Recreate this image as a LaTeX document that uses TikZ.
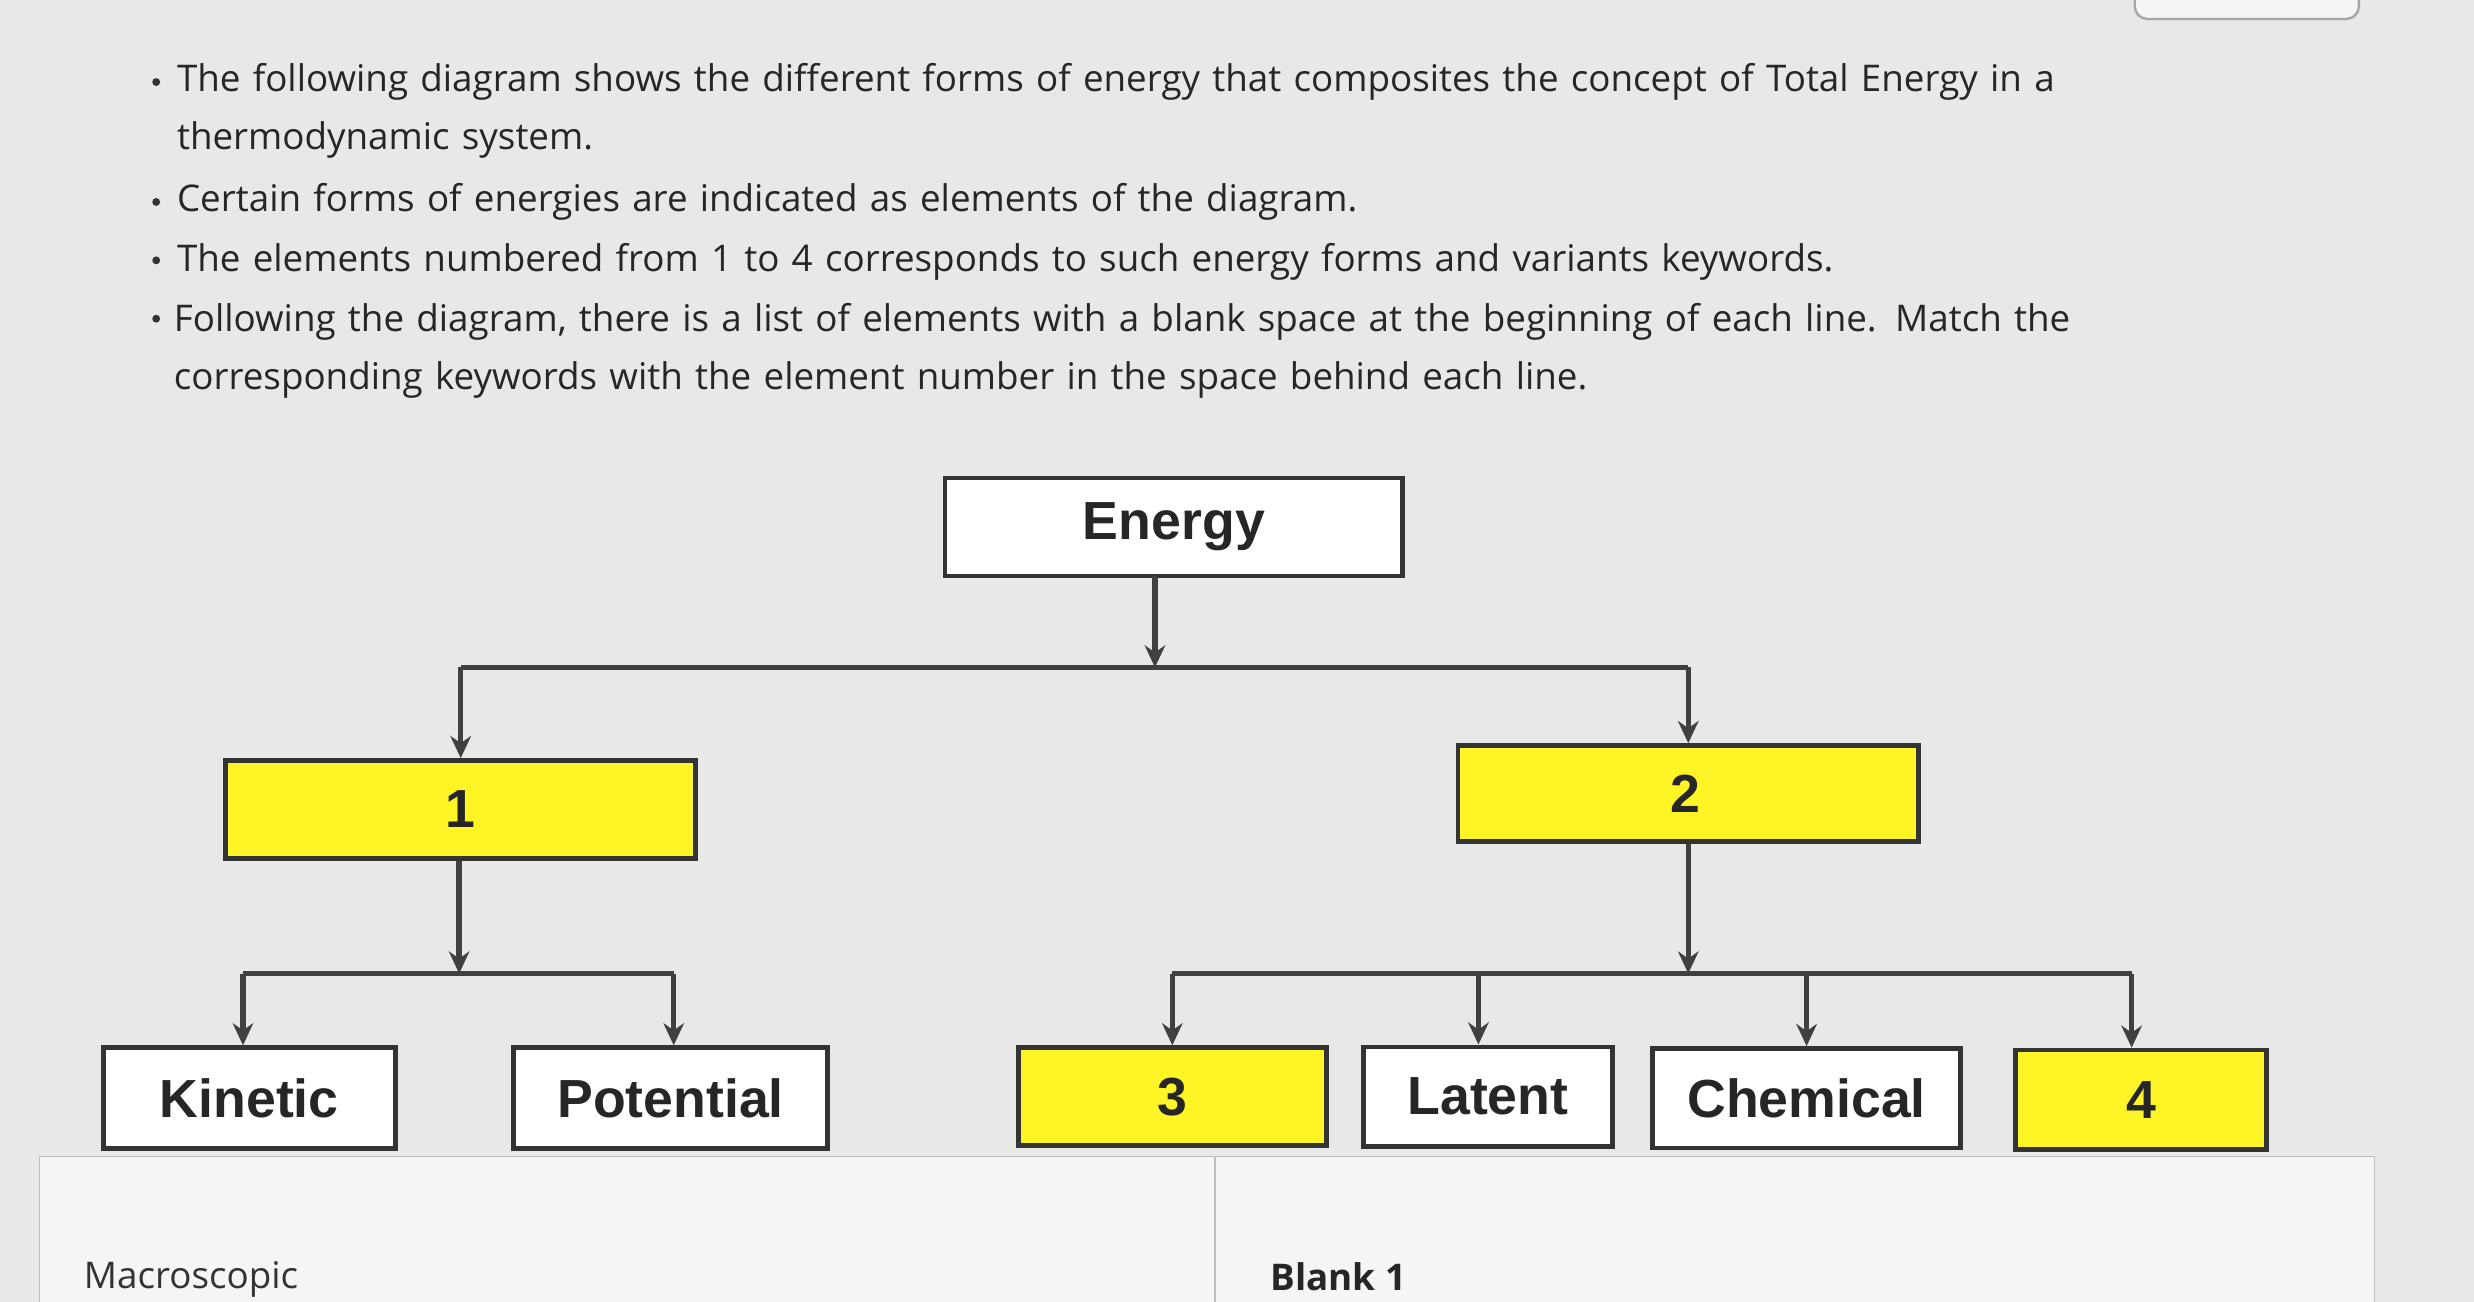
\documentclass[tikz,border=0pt]{standalone}
\usepackage{fontspec}
\setmainfont{Open Sans}
\newfontfamily\arial{Liberation Sans}
\usetikzlibrary{arrows.meta}
\begin{document}
\begin{tikzpicture}[x=1pt,y=-1pt,
  box/.style={draw=black!80,line width=3pt,fill=white,inner sep=0pt,font=\arial\bfseries\fontsize{34}{38}\selectfont,text=black!85},
  ybox/.style={box,fill=yellow!85!white},
  con/.style={draw=black!75,line width=3.5pt},
  arr/.style={con,-{Stealth[length=14pt,width=13pt]}},
  btxt/.style={anchor=north west,text width=1300pt,align=left,font=\fontsize{23.3}{37}\selectfont,text=black!85,inner sep=0pt}]
\fill[black!9] (0,0) rectangle (1568,825);
\useasboundingbox (0,0) rectangle (1568,825);
\draw[black!35,line width=1.5pt,rounded corners=8pt,fill=black!4] (1353,-20) rectangle (1495,12);
% bullets
\node[btxt] (b1) at (112,40) {The following diagram shows the different forms of energy that composites the concept of Total Energy in a\\thermodynamic system.};
\node[btxt] (b2) at (112,116) {Certain forms of energies are indicated as elements of the diagram.};
\node[btxt] (b3) at (112,154) {The elements numbered from 1 to 4 corresponds to such energy forms and variants keywords.};
\node[btxt] (b4) at (110,192) {Following the diagram, there is a list of elements with a blank space at the beginning of each line. Match the\\corresponding keywords with the element number in the space behind each line.};
\foreach \yy in {52,128,165,202} \fill[black!80] (99,\yy) circle (2.5pt);
% boxes
\node[box,minimum width=290pt,minimum height=62pt] (en) at (744,334) {Energy};
\node[ybox,minimum width=298pt,minimum height=62pt] (n1) at (292,513) {1};
\node[ybox,minimum width=292pt,minimum height=61pt] (n2) at (1070,503) {\hspace*{-4pt}2};
\node[box,minimum width=185pt,minimum height=64pt] (ki) at (158,696) {Kinetic};
\node[box,minimum width=199pt,minimum height=64pt] (po) at (425,696) {Potential};
\node[ybox,minimum width=195pt,minimum height=62pt] (n3) at (743,695) {3};
\node[box,minimum width=158pt,minimum height=63pt] (la) at (943,695) {Latent};
\node[box,minimum width=195pt,minimum height=63pt] (ch) at (1145,696) {Chemical};
\node[ybox,minimum width=159pt,minimum height=63pt] (n4) at (1357,697) {4};
% connectors
\coordinate (j0) at (732,423);
\coordinate (jl) at (292,423);
\coordinate (jr) at (1070,423);
\draw[arr] (732,365) -- (j0);
\draw[con] (jl) -- (jr);
\draw[arr] (jl) -- (n1.north -| jl);
\draw[arr] (jr) -- (n2.north -| jr);
\coordinate (k0) at (291,617);
\coordinate (kl) at (154,617);
\coordinate (kr) at (427,617);
\draw[arr] (n1.south -| k0) -- (k0);
\draw[con] (kl) -- (kr);
\draw[arr] (kl) -- (ki.north -| kl);
\draw[arr] (kr) -- (po.north -| kr);
\coordinate (m0) at (1070,617);
\coordinate (m1) at (743,617);
\coordinate (m2) at (937,617);
\coordinate (m3) at (1145,617);
\coordinate (m4) at (1351,617);
\draw[arr] (n2.south -| m0) -- (m0);
\draw[con] (m1) -- (m4);
\draw[arr] (m1) -- (n3.north -| m1);
\draw[arr] (m2) -- (la.north -| m2);
\draw[arr] (m3) -- (ch.north -| m3);
\draw[arr] (m4) -- (n4.north -| m4);
% table
\draw[black!25,line width=1pt,fill=black!4] (25,733) rectangle (1505,830);
\draw[black!25,line width=1pt] (770,733) -- (770,830);
\node[anchor=west,font=\fontsize{23.3}{26}\selectfont,text=black!80,inner sep=0pt] (mac) at (53,811) {Macroscopic};
\node[anchor=west,font=\bfseries\fontsize{23.3}{26}\selectfont,text=black!85,inner sep=0pt] (bl) at (805,809) {Blank 1};
\end{tikzpicture}
\end{document}
